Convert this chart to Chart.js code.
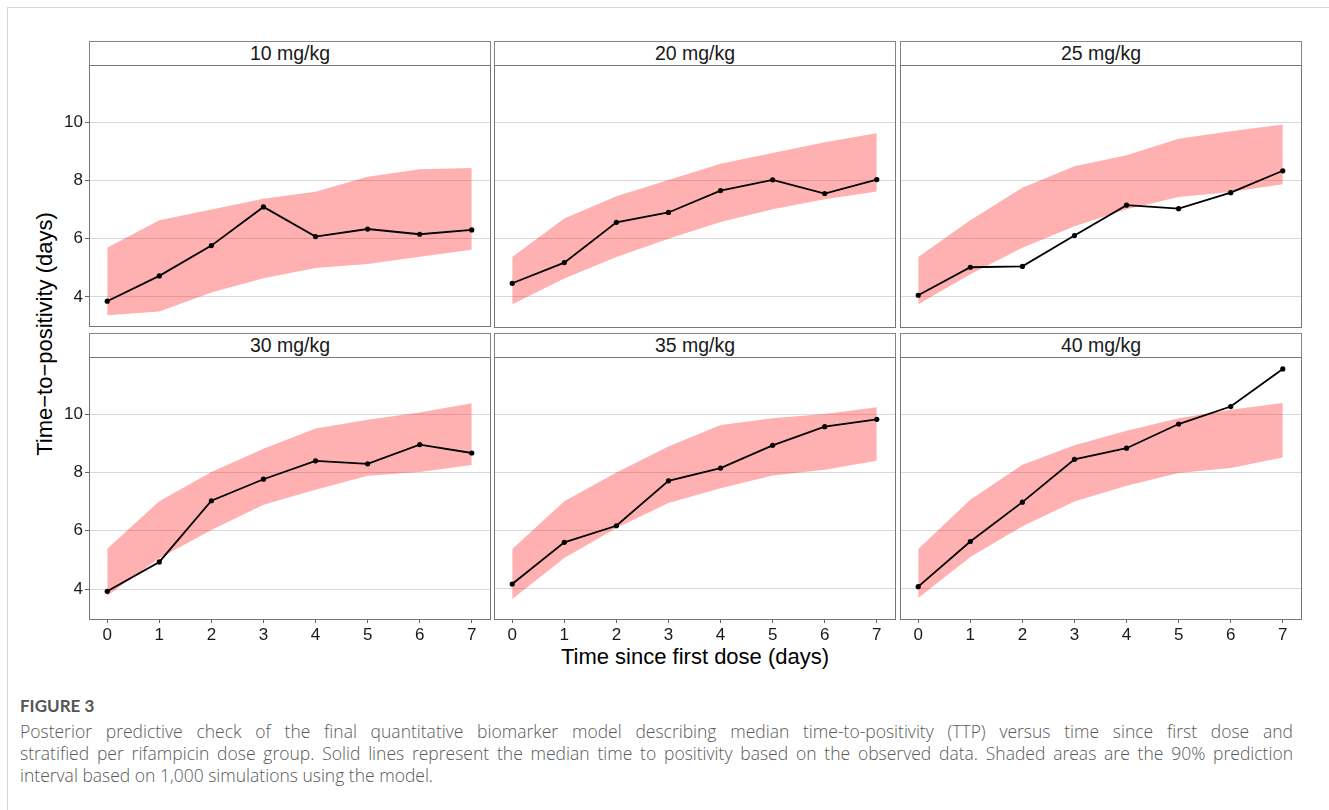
<!DOCTYPE html>
<html>
<head>
<meta charset="utf-8">
<script src="https://cdn.jsdelivr.net/npm/chart.js@4.4.1/dist/chart.umd.min.js"></script>
<style>
  body { margin: 0; background: #fff; width: 1329px; height: 810px; position: relative; overflow: hidden;
         font-family: "Liberation Sans", Arial, sans-serif; }
  .card { position: absolute; left: 7px; top: 7px; width: 1400px; height: 900px;
          border-left: 1px solid #d6d6d6; border-top: 1px solid #d6d6d6; }
  .strip { position: absolute; box-sizing: border-box; border: 1px solid #858585; background: #fff;
           text-align: center; font-size: 19.5px; color: #1a1a1a; line-height: 23px; }
  canvas { position: absolute; }
  .ytitle { position: absolute; left: 45px; top: 334px; transform: translate(-50%, -50%) rotate(-90deg);
            font-size: 22px; color: #000; white-space: nowrap; }
  .xtitle { position: absolute; left: 695px; top: 657px; transform: translate(-50%, -50%);
            font-size: 22px; color: #000; white-space: nowrap; }
  .caption { position: absolute; left: 20px; top: 694px; font-family: "Open Sans", Lato, sans-serif; color: #595959; }
  .caption .fig { font-family: Lato, sans-serif; font-size: 17px; font-weight: 700; line-height: 24px; margin-bottom: 2px; color: #555; }
  .caption .line { font-size: 17.5px; line-height: 22px; white-space: nowrap; font-weight: 300; }
  .caption .just { width: 1273px; text-align: justify; text-align-last: justify; }
</style>
</head>
<body>
<div class="card"></div>
<div class="ytitle">Time−to−positivity (days)</div>
<div class="xtitle">Time since first dose (days)</div>
<div class="caption">
  <div class="fig">FIGURE 3</div>
  <div class="line just">Posterior predictive check of the final quantitative biomarker model describing median time-to-positivity (TTP) versus time since first dose and</div>
  <div class="line just">stratified per rifampicin dose group. Solid lines represent the median time to positivity based on the observed data. Shaded areas are the 90% prediction</div>
  <div class="line">interval based on 1,000 simulations using the model.</div>
</div>
<script>
// Days since first dose (x axis)
const days = [0, 1, 2, 3, 4, 5, 6, 7];
const doseGroups = ['10 mg/kg', '20 mg/kg', '25 mg/kg', '30 mg/kg', '35 mg/kg', '40 mg/kg'];

// Observed median TTP, one row per dose group
const medianTTP = [
  [3.85, 4.72, 5.76, 7.09, 6.07, 6.33, 6.15, 6.30],
  [4.47, 5.18, 6.56, 6.90, 7.65, 8.02, 7.55, 8.03],
  [4.06, 5.02, 5.05, 6.11, 7.15, 7.03, 7.58, 8.33],
  [3.92, 4.93, 7.03, 7.77, 8.40, 8.30, 8.96, 8.67],
  [4.17, 5.60, 6.17, 7.71, 8.15, 8.93, 9.57, 9.82],
  [4.08, 5.63, 6.98, 8.45, 8.83, 9.66, 10.26, 11.55]
];

// 90% prediction interval (lower / upper)
const lowerPI = [
  [3.37, 3.50, 4.15, 4.64, 4.99, 5.13, 5.38, 5.62],
  [3.75, 4.63, 5.37, 6.00, 6.57, 7.01, 7.35, 7.62],
  [3.75, 4.78, 5.69, 6.43, 7.01, 7.43, 7.60, 7.87],
  [3.77, 5.06, 6.03, 6.89, 7.41, 7.89, 8.02, 8.26],
  [3.66, 5.06, 6.09, 6.95, 7.46, 7.89, 8.09, 8.40],
  [3.69, 5.10, 6.15, 7.00, 7.54, 7.98, 8.15, 8.51]
];
const upperPI = [
  [5.69, 6.63, 7.00, 7.37, 7.61, 8.13, 8.38, 8.43],
  [5.37, 6.69, 7.46, 8.01, 8.57, 8.94, 9.31, 9.62],
  [5.37, 6.63, 7.75, 8.49, 8.86, 9.43, 9.69, 9.92],
  [5.38, 7.01, 8.02, 8.82, 9.51, 9.81, 10.06, 10.38],
  [5.37, 7.01, 8.00, 8.89, 9.63, 9.86, 10.00, 10.24],
  [5.37, 7.06, 8.26, 8.93, 9.43, 9.86, 10.15, 10.38]
];

const yTicks = [4, 6, 8, 10];
const xTicks = [0, 1, 2, 3, 4, 5, 6, 7];

// facet layout (plot area of each panel)
const colLeft = [89, 494, 900];
const rowTop = [65, 357];
const plotW = 401, plotH = 262, pad = 12;
const yAxisW = 40, xAxisH = 32;

const pts = arr => days.map((d, k) => ({ x: d, y: arr[k] }));
const tickFont = { family: '"Liberation Sans", Arial, sans-serif', size: 17 };

doseGroups.forEach((dose, i) => {
  const col = i % 3, row = Math.floor(i / 3);
  const leftCol = col === 0, bottomRow = row === 1;

  const strip = document.createElement('div');
  strip.className = 'strip';
  strip.style.left = colLeft[col] + 'px';
  strip.style.top = (rowTop[row] - 24) + 'px';
  strip.style.width = (plotW + 1) + 'px';
  strip.style.height = '25px';
  strip.textContent = dose;
  document.body.appendChild(strip);

  const yw = leftCol ? yAxisW : 0;
  const xh = bottomRow ? xAxisH : 0;
  const canvas = document.createElement('canvas');
  const w = plotW + yw + 2 * pad, h = plotH + xh + 2 * pad;
  canvas.width = w; canvas.height = h;
  canvas.style.width = w + 'px'; canvas.style.height = h + 'px';
  canvas.style.left = (colLeft[col] - yw - pad) + 'px';
  canvas.style.top = (rowTop[row] - pad) + 'px';
  document.body.appendChild(canvas);

  new Chart(canvas, {
    type: 'line',
    data: {
      datasets: [
        { data: pts(medianTTP[i]), order: 0, fill: false, borderColor: '#000', borderWidth: 1.8,
          pointRadius: 2.6, pointBackgroundColor: '#000', pointBorderWidth: 0 },
        { data: pts(upperPI[i]), order: 1, fill: '+1', backgroundColor: 'rgba(255,0,0,0.31)',
          borderColor: 'transparent', borderWidth: 0, pointRadius: 0 },
        { data: pts(lowerPI[i]), order: 2, fill: false, borderColor: 'transparent', borderWidth: 0, pointRadius: 0 }
      ]
    },
    options: {
      responsive: false,
      animation: false,
      layout: { padding: pad },
      plugins: { legend: { display: false }, tooltip: { enabled: false } },
      scales: {
        x: {
          type: 'linear', min: -0.35, max: 7.35,
          afterBuildTicks: s => { s.ticks = xTicks.map(v => ({ value: v })); },
          afterFit: s => { s.height = xh; },
          ticks: { display: bottomRow, padding: 2, font: tickFont, color: '#1a1a1a', maxRotation: 0 },
          grid: { drawOnChartArea: false, drawTicks: bottomRow, tickLength: 4, tickColor: '#666' },
          border: { color: '#777', width: 1 }
        },
        y: {
          type: 'linear', min: 2.97, max: 11.96,
          afterBuildTicks: s => { s.ticks = yTicks.map(v => ({ value: v })); },
          afterFit: s => { s.width = yw; },
          ticks: { display: leftCol, padding: 2, font: tickFont, color: '#1a1a1a' },
          grid: { color: '#d9d9d9', lineWidth: 1, drawTicks: leftCol, tickLength: 4, tickColor: '#666' },
          border: { color: '#777', width: 1 }
        },
        x2: {
          type: 'linear', position: 'top', min: -0.35, max: 7.35,
          ticks: { display: false }, grid: { display: false, drawTicks: false },
          afterFit: s => { s.height = 0; },
          border: { color: '#777', width: 1 }
        },
        y2: {
          type: 'linear', position: 'right', min: 2.97, max: 11.96,
          ticks: { display: false }, grid: { display: false, drawTicks: false },
          afterFit: s => { s.width = 0; },
          border: { color: '#777', width: 1 }
        }
      }
    }
  });
});
</script>
</body>
</html>
